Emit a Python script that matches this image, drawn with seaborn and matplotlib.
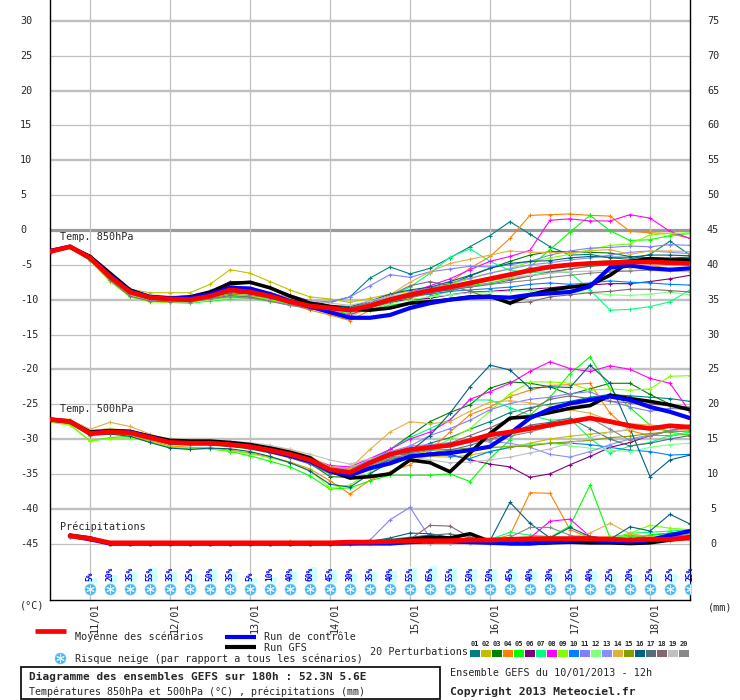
import matplotlib
matplotlib.use('Agg')
import matplotlib.pyplot as plt
from matplotlib.patches import Rectangle
import pandas as pd
import seaborn as sns

# ---------------------------------------------------------------
# Data : GEFS run 10/01/2013 12h, one value every 6 h (0..192 h)
# ---------------------------------------------------------------
hours = list(range(0, 193, 6))
precip_hours = hours[1:]
snow_hours = hours[2:]

day_hours = [12, 36, 60, 84, 108, 132, 156, 180]
day_labels = ['11/01', '12/01', '13/01', '14/01', '15/01', '16/01', '17/01', '18/01']

pert_names = ['01', '02', '03', '04', '05', '06', '07', '08', '09', '10',
              '11', '12', '13', '14', '15', '16', '17', '18', '19', '20']
pert_colors = ['#008080', '#c0c000', '#008000', '#ff8000', '#00ff00', '#800080', '#00ff80',
               '#ff00ff', '#80ff00', '#0080ff', '#8080ff', '#80ff80', '#8c8cff', '#e0b040',
               '#80a000', '#006080', '#507080', '#806870', '#c0c0c0', '#888888']

# Temp 850 hPa
t850_mean = [-3.1, -2.4, -4.0, -6.7, -8.9, -9.7, -9.9, -10.0, -9.5, -8.6, -8.9, -9.5, -10.3, -10.9, -11.2, -11.5,
             -10.9, -10.0, -9.3, -8.7, -8.2, -7.6, -7.0, -6.4, -5.8, -5.3, -5.0, -4.8, -4.7, -4.6, -4.6, -4.7, -4.8]
t850_ctrl = [-3.0, -2.4, -4.0, -6.5, -8.8, -9.6, -9.8, -9.7, -9.2, -8.3, -8.4, -9.2, -10.2, -11.0, -11.8, -12.6,
             -12.6, -12.2, -11.2, -10.5, -10.0, -9.7, -9.6, -9.7, -9.3, -9.1, -8.9, -8.1, -5.4, -5.1, -5.5, -5.7, -5.5]
t850_gfs = [-3.0, -2.4, -3.8, -6.2, -8.6, -9.6, -9.8, -9.6, -8.9, -7.7, -7.5, -8.3, -9.5, -10.5, -11.0, -11.4,
            -11.5, -11.2, -10.5, -10.3, -10.0, -9.6, -9.5, -10.5, -9.3, -8.6, -8.2, -7.9, -6.5, -4.5, -4.1, -4.3, -4.3]
t850_pert = [
    [-3.0, -2.3, -3.8, -6.4, -8.7, -9.5, -9.8, -9.9, -9.3, -8.4, -8.7, -9.4, -10.1, -10.5, -10.4, -9.6,
     -6.9, -5.3, -6.3, -5.5, -4.0, -2.4, -0.8, 1.2, -0.6, -2.4, -3.6, -3.5, -4.0, -4.2, -3.5, -1.6, -3.6],
    [-3.0, -2.3, -3.6, -6.2, -8.5, -9.0, -9.0, -9.0, -7.8, -5.7, -6.2, -7.4, -8.6, -9.6, -9.9, -10.4,
     -9.8, -9.2, -8.8, -8.4, -8.0, -7.8, -7.2, -7.0, -6.6, -6.2, -5.6, -5.2, -5.0, -5.4, -5.0, -5.6, -5.9],
    [-3.1, -2.4, -4.1, -6.9, -9.0, -9.8, -10.0, -10.1, -9.7, -9.0, -9.2, -9.8, -10.5, -11.0, -11.3, -11.4,
     -10.8, -9.9, -9.0, -8.5, -7.8, -6.6, -5.5, -4.5, -3.6, -3.1, -3.1, -3.2, -3.3, -3.8, -4.0, -4.0, -3.9],
    [-3.1, -2.5, -4.2, -7.0, -9.1, -9.8, -10.0, -10.0, -9.4, -8.5, -8.8, -9.6, -10.6, -11.5, -12.2, -13.0,
     -11.5, -10.5, -9.8, -9.0, -7.5, -5.5, -3.8, -1.2, 2.1, 2.2, 2.3, 2.1, 2.0, -0.2, -0.4, -0.5, -1.2],
    [-3.2, -2.5, -4.3, -7.2, -9.4, -10.2, -10.4, -10.5, -10.2, -9.9, -9.8, -10.0, -10.6, -11.2, -11.6, -12.0,
     -11.5, -10.8, -10.4, -9.5, -8.8, -8.0, -7.6, -7.0, -5.3, -2.8, -0.3, 2.1, -0.1, -1.5, -1.4, -0.8, -0.5],
    [-3.1, -2.4, -3.9, -6.5, -8.7, -9.4, -9.6, -9.6, -8.8, -7.4, -7.4, -8.2, -9.3, -10.2, -10.8, -11.0,
     -10.8, -10.3, -10.0, -9.8, -9.3, -8.9, -8.8, -8.6, -8.5, -8.3, -8.0, -7.9, -7.7, -7.7, -7.4, -7.0, -6.5],
    [-3.0, -2.4, -4.2, -7.0, -9.2, -10.0, -10.2, -10.3, -10.0, -9.5, -9.6, -10.0, -10.6, -11.0, -11.1, -11.0,
     -10.5, -9.5, -8.2, -6.2, -3.9, -2.7, -4.5, -5.8, -6.1, -6.0, -6.1, -8.6, -11.5, -11.4, -11.0, -10.3, -8.6],
    [-3.1, -2.4, -4.0, -6.7, -8.8, -9.6, -9.8, -9.8, -9.2, -8.2, -8.4, -9.2, -10.2, -11.0, -11.6, -12.2,
     -11.0, -9.8, -9.0, -8.0, -7.0, -5.7, -4.5, -3.8, -2.9, 1.4, 1.6, 1.3, 1.3, 2.2, 1.7, -0.2, -1.2],
    [-3.3, -2.6, -4.4, -7.4, -9.6, -10.3, -10.4, -10.4, -10.0, -9.8, -9.7, -10.0, -10.5, -11.0, -11.5, -11.8,
     -11.0, -10.2, -9.4, -8.6, -7.8, -7.0, -6.2, -5.5, -4.6, -4.0, -3.5, -2.8, -2.2, -2.0, -0.7, -0.5, -0.4],
    [-3.1, -2.4, -4.0, -6.8, -9.0, -9.7, -9.8, -9.8, -9.2, -8.2, -8.4, -9.0, -9.8, -10.6, -11.2, -11.8,
     -11.2, -10.4, -9.6, -9.2, -8.8, -8.6, -8.4, -8.2, -7.8, -7.6, -7.8, -7.6, -7.3, -7.5, -7.6, -7.8, -7.9],
    [-3.0, -2.3, -3.9, -6.6, -8.8, -9.5, -9.7, -9.7, -9.0, -8.0, -8.3, -9.0, -9.8, -10.2, -10.3, -9.6,
     -8.0, -6.4, -6.8, -6.0, -5.6, -5.2, -5.3, -5.0, -4.5, -3.6, -3.0, -2.6, -2.5, -2.3, -2.4, -2.1, -2.2],
    [-3.2, -2.5, -4.3, -7.2, -9.4, -10.1, -10.3, -10.4, -10.1, -9.8, -9.9, -10.3, -10.8, -11.2, -11.5, -11.8,
     -11.3, -10.6, -10.0, -9.6, -9.3, -9.0, -8.9, -8.8, -8.7, -8.6, -8.8, -9.0, -9.3, -9.4, -9.2, -8.9, -9.3],
    [-3.1, -2.4, -4.0, -6.6, -8.8, -9.6, -9.8, -9.8, -9.1, -8.2, -8.5, -9.2, -10.0, -10.6, -11.0, -11.2,
     -10.5, -9.7, -9.0, -8.3, -7.6, -6.9, -6.2, -5.6, -5.0, -4.7, -4.3, -4.0, -3.6, -3.2, -3.0, -3.2, -3.4],
    [-3.0, -2.3, -3.8, -6.4, -8.6, -9.4, -9.6, -9.6, -9.0, -8.1, -8.3, -9.0, -9.9, -10.6, -11.3, -12.5,
     -11.0, -9.3, -7.5, -6.0, -4.8, -4.2, -3.6, -3.0, -3.2, -3.2, -3.3, -3.0, -2.8, -3.5, -3.0, -3.0, -3.1],
    [-3.2, -2.5, -4.2, -7.0, -9.2, -9.9, -10.1, -10.2, -9.8, -9.2, -9.4, -9.8, -10.4, -10.9, -11.3, -11.6,
     -11.1, -10.3, -9.6, -9.0, -8.5, -7.9, -7.2, -6.6, -6.0, -5.4, -5.0, -4.6, -4.4, -4.4, -4.2, -4.0, -4.2],
    [-3.1, -2.4, -4.1, -6.8, -9.0, -9.7, -9.8, -9.8, -9.2, -8.4, -8.6, -9.2, -10.0, -10.5, -11.0, -11.0,
     -10.2, -9.2, -8.6, -8.2, -7.4, -6.5, -5.5, -4.8, -4.5, -4.4, -4.0, -3.8, -3.9, -3.9, -3.6, -3.6, -3.7],
    [-3.0, -2.4, -4.0, -6.6, -8.8, -9.6, -9.8, -9.9, -9.4, -8.7, -9.0, -9.7, -10.5, -11.0, -11.4, -11.6,
     -11.0, -10.2, -9.6, -9.0, -8.6, -8.2, -7.8, -7.2, -6.6, -6.0, -5.6, -5.2, -5.0, -4.8, -4.6, -4.4, -4.3],
    [-3.2, -2.5, -4.3, -7.2, -9.5, -10.2, -10.3, -10.3, -9.9, -9.4, -9.6, -10.2, -10.8, -11.3, -11.4, -11.2,
     -10.4, -9.4, -8.0, -7.4, -8.0, -8.8, -9.8, -10.5, -10.3, -9.6, -9.3, -9.0, -8.8, -8.5, -8.5, -8.7, -8.9],
    [-3.0, -2.3, -3.7, -6.3, -8.5, -9.3, -9.5, -9.5, -9.0, -8.3, -8.5, -9.1, -9.8, -10.2, -10.5, -10.8,
     -10.2, -9.5, -9.0, -8.5, -8.0, -7.6, -7.2, -6.8, -6.5, -6.2, -6.0, -5.9, -5.8, -5.8, -5.8, -5.9, -6.0],
    [-3.1, -2.4, -4.1, -6.9, -9.2, -10.0, -10.2, -10.2, -9.9, -9.6, -9.8, -10.2, -10.8, -11.1, -11.3, -11.2,
     -10.6, -9.8, -9.2, -8.7, -8.4, -8.1, -7.8, -7.5, -7.2, -6.8, -6.5, -6.2, -6.0, -5.9, -5.7, -5.6, -5.5],
]

# Temp 500 hPa
t500_mean = [-27.2, -27.5, -29.2, -29.0, -29.1, -29.8, -30.5, -30.6, -30.6, -30.8, -31.1, -31.6, -32.2, -33.0, -34.4,
             -34.8, -33.4, -32.2, -31.5, -31.2, -30.9, -30.2, -29.4, -29.0, -28.5, -28.0, -27.5, -27.0, -27.5, -28.1,
             -28.5, -28.1, -28.3]
t500_ctrl = [-27.2, -27.5, -29.2, -28.9, -29.0, -29.7, -30.5, -30.6, -30.6, -30.8, -31.1, -31.7, -32.4, -33.2, -34.6,
             -35.2, -34.2, -33.5, -32.5, -32.2, -32.0, -31.6, -31.1, -29.2, -27.0, -25.7, -24.9, -24.4, -23.9, -24.4,
             -25.4, -26.1, -27.0]
t500_gfs = [-27.2, -27.5, -29.0, -28.8, -28.9, -29.6, -30.2, -30.3, -30.3, -30.5, -30.8, -31.3, -31.9, -32.7, -34.6,
            -35.6, -35.4, -35.0, -33.0, -33.4, -34.7, -32.0, -29.2, -27.0, -26.8, -26.2, -25.6, -25.2, -23.7, -24.2,
            -24.6, -25.1, -25.8]
t500_pert = [
    [-27.1, -27.4, -29.1, -28.9, -29.1, -29.8, -30.5, -30.6, -30.6, -30.8, -31.1, -31.6, -32.3, -33.2, -34.8, -35.2,
     -34.2, -33.0, -31.8, -30.6, -29.8, -28.6, -27.5, -26.2, -25.5, -25.0, -24.6, -24.0, -23.6, -23.8, -24.0, -24.2, -24.6],
    [-27.0, -27.2, -28.8, -28.5, -28.8, -29.4, -30.0, -30.1, -30.2, -30.4, -30.8, -31.3, -32.0, -32.8, -34.0, -34.2,
     -33.4, -32.9, -32.8, -32.5, -32.6, -32.3, -31.8, -31.2, -30.6, -30.0, -29.6, -29.3, -29.0, -28.7, -28.5, -28.8, -29.0],
    [-27.2, -27.5, -29.2, -29.0, -28.9, -29.6, -30.4, -30.6, -30.6, -30.9, -31.3, -31.9, -32.6, -33.5, -35.4, -35.5,
     -33.5, -31.5, -29.5, -27.5, -26.2, -25.1, -22.7, -21.8, -22.0, -22.5, -23.6, -22.8, -22.0, -22.0, -23.6, -25.0, -25.8],
    [-27.3, -27.6, -29.5, -29.3, -29.4, -30.2, -31.0, -31.2, -31.3, -31.6, -32.0, -32.6, -33.3, -34.3, -36.0, -37.9,
     -35.9, -34.7, -33.7, -31.6, -29.0, -26.5, -25.4, -23.9, -23.0, -22.3, -22.2, -22.0, -26.3, -28.8, -29.5, -29.5, -29.3],
    [-27.4, -27.9, -30.3, -29.8, -29.6, -30.4, -31.2, -31.4, -31.4, -31.8, -32.4, -33.2, -34.0, -35.3, -37.2, -37.0,
     -36.0, -35.2, -35.2, -35.2, -35.0, -36.1, -32.8, -30.1, -26.6, -24.0, -20.6, -18.2, -22.8, -25.5, -28.0, -29.0, -29.5],
    [-27.2, -27.5, -29.3, -29.1, -29.2, -29.9, -30.6, -30.8, -30.8, -31.0, -31.3, -31.8, -32.4, -33.2, -34.5, -34.8,
     -33.8, -33.0, -32.5, -32.0, -32.2, -33.0, -33.6, -34.0, -35.5, -35.0, -33.7, -32.5, -31.2, -30.5, -29.5, -28.8, -28.2],
    [-27.1, -27.4, -29.1, -28.9, -29.0, -29.7, -30.4, -30.5, -30.6, -30.8, -31.0, -31.5, -32.2, -33.0, -34.0, -34.3,
     -33.0, -31.5, -29.8, -28.5, -27.2, -24.4, -24.4, -25.5, -26.6, -27.3, -27.1, -29.9, -32.0, -31.0, -30.5, -29.5, -29.0],
    [-27.2, -27.4, -29.1, -28.9, -29.0, -29.6, -30.2, -30.3, -30.4, -30.6, -30.9, -31.4, -32.0, -32.8, -33.8, -34.0,
     -32.8, -31.5, -30.0, -29.0, -27.3, -24.3, -23.2, -22.0, -20.3, -18.9, -19.9, -20.3, -19.5, -20.0, -21.3, -22.0, -26.1],
    [-27.6, -28.0, -30.3, -29.9, -29.8, -30.4, -31.1, -31.3, -31.4, -31.7, -32.1, -32.7, -33.4, -34.5, -37.0, -36.6,
     -34.8, -33.5, -32.8, -31.5, -30.0, -28.5, -26.0, -23.5, -21.8, -21.8, -22.0, -23.0, -22.8, -23.0, -22.8, -21.0, -20.9],
    [-27.1, -27.4, -29.0, -28.8, -29.0, -29.7, -30.3, -30.4, -30.4, -30.6, -30.9, -31.4, -32.0, -32.9, -34.2, -34.6,
     -33.6, -32.5, -32.2, -32.2, -32.4, -32.8, -31.8, -31.2, -30.8, -30.6, -30.6, -30.8, -31.2, -31.6, -31.8, -32.3, -32.2],
    [-27.2, -27.5, -29.2, -29.0, -29.2, -29.9, -30.6, -30.7, -30.7, -30.9, -31.2, -31.7, -32.3, -33.1, -34.2, -34.5,
     -33.5, -32.3, -31.0, -29.5, -28.5, -27.3, -25.8, -24.9, -24.3, -24.0, -23.5, -23.2, -24.5, -25.4, -26.0, -25.6, -25.8],
    [-27.3, -27.6, -29.4, -29.2, -29.3, -30.0, -30.7, -30.9, -30.9, -31.1, -31.5, -32.0, -32.6, -33.4, -34.6, -34.9,
     -33.9, -32.8, -32.0, -31.6, -31.5, -31.8, -31.3, -31.0, -30.8, -30.6, -31.0, -31.3, -31.6, -31.8, -31.2, -30.8, -30.6],
    [-27.1, -27.4, -29.0, -28.8, -29.0, -29.6, -30.3, -30.4, -30.4, -30.6, -30.9, -31.5, -32.1, -32.9, -34.0, -34.3,
     -33.0, -31.8, -31.0, -30.8, -30.5, -30.3, -30.4, -30.6, -31.2, -32.2, -32.6, -31.8, -30.8, -30.0, -29.4, -28.8, -28.5],
    [-27.0, -27.2, -28.6, -27.6, -28.2, -29.3, -30.2, -30.3, -30.3, -30.5, -30.7, -31.1, -31.5, -32.5, -34.0, -34.2,
     -31.5, -29.0, -27.5, -27.8, -27.5, -26.0, -24.7, -24.5, -24.8, -25.3, -25.8, -26.3, -27.3, -27.8, -28.0, -28.2, -28.0],
    [-27.3, -27.6, -29.4, -29.1, -29.2, -29.9, -30.6, -30.7, -30.7, -30.9, -31.2, -31.8, -32.4, -33.2, -34.6, -34.8,
     -33.6, -32.4, -31.8, -31.6, -31.5, -31.3, -31.2, -31.1, -31.0, -30.6, -30.4, -30.2, -29.8, -29.6, -29.2, -29.0, -28.8],
    [-27.1, -27.4, -29.4, -29.3, -29.6, -30.5, -31.3, -31.5, -31.3, -31.4, -31.8, -32.5, -33.4, -34.6, -36.5, -36.9,
     -35.0, -33.3, -31.8, -29.5, -26.3, -22.5, -19.4, -20.1, -22.7, -22.5, -22.6, -19.4, -22.0, -28.5, -35.4, -33.0, -32.3],
    [-27.2, -27.5, -29.3, -29.1, -29.2, -29.9, -30.6, -30.7, -30.8, -31.0, -31.4, -32.0, -32.7, -33.6, -35.0, -35.2,
     -34.0, -33.0, -32.6, -32.0, -31.6, -30.9, -30.0, -29.2, -28.0, -27.6, -27.0, -28.5, -30.0, -31.0, -30.6, -30.0, -29.5],
    [-27.2, -27.5, -29.2, -29.0, -29.1, -29.8, -30.5, -30.6, -30.6, -30.8, -31.1, -31.6, -32.2, -33.1, -34.5, -34.8,
     -33.6, -32.6, -32.0, -31.4, -30.6, -29.5, -28.4, -27.1, -25.8, -24.3, -23.8, -24.2, -24.6, -24.8, -25.0, -25.2, -25.4],
    [-27.0, -27.3, -28.7, -28.6, -28.9, -29.5, -30.1, -30.2, -30.2, -30.3, -30.5, -30.9, -31.5, -32.2, -33.0, -33.6,
     -32.8, -32.3, -32.5, -33.0, -33.4, -33.3, -33.0, -32.6, -32.0, -31.4, -30.6, -29.8, -29.0, -28.6, -28.4, -28.3, -28.2],
    [-27.2, -27.5, -29.3, -29.1, -29.2, -29.9, -30.6, -30.7, -30.7, -30.9, -31.2, -31.7, -32.4, -33.2, -34.6, -34.9,
     -33.8, -32.8, -32.2, -31.6, -31.0, -30.5, -30.1, -29.6, -29.0, -28.2, -27.6, -27.0, -28.6, -30.2, -29.6, -28.8, -28.0],
]

# Precipitation (mm), from +6 h
rr_mean = [1.1, 0.7, 0.1, 0.1, 0.1, 0.1, 0.1, 0.1, 0.1, 0.1, 0.1, 0.1, 0.1, 0.1, 0.2, 0.2,
           0.3, 0.4, 0.4, 0.4, 0.5, 0.5, 0.6, 0.7, 0.7, 0.7, 0.7, 0.6, 0.5, 0.6, 0.6, 0.8]
rr_ctrl = [1.1, 0.6, 0.0, 0.0, 0.0, 0.0, 0.0, 0.0, 0.0, 0.0, 0.0, 0.0, 0.0, 0.0, 0.0, 0.0,
           0.0, 0.2, 0.3, 0.3, 0.2, 0.1, 0.0, 0.0, 0.2, 0.4, 0.5, 0.3, 0.2, 0.5, 1.2, 1.8]
rr_gfs = [1.2, 0.8, 0.0, 0.0, 0.0, 0.0, 0.0, 0.0, 0.0, 0.0, 0.0, 0.0, 0.0, 0.0, 0.0, 0.1,
          0.3, 0.6, 0.9, 0.8, 1.4, 0.3, 0.0, 0.0, 0.1, 0.2, 0.1, 0.1, 0.0, 0.1, 0.5, 0.9]
rr_pert = [
    [1.0, 0.6, 0.0, 0.0, 0.0, 0.0, 0.0, 0.0, 0.0, 0.0, 0.0, 0.0, 0.0, 0.0, 0.1, 0.3,
     0.5, 0.8, 1.2, 0.6, 0.4, 0.2, 0.6, 0.3, 0.2, 0.5, 0.8, 0.5, 0.3, 0.6, 0.9, 1.2],
    [1.1, 0.7, 0.0, 0.0, 0.0, 0.0, 0.0, 0.0, 0.0, 0.0, 0.1, 0.3, 0.2, 0.0, 0.1, 0.2,
     0.4, 0.7, 0.5, 0.3, 0.2, 0.2, 0.3, 0.4, 0.6, 0.5, 0.4, 0.3, 0.4, 0.6, 0.7, 0.8],
    [1.0, 0.6, 0.0, 0.0, 0.0, 0.0, 0.0, 0.0, 0.0, 0.0, 0.0, 0.0, 0.0, 0.0, 0.1, 0.2,
     0.4, 0.6, 0.5, 0.3, 0.2, 0.1, 0.3, 0.5, 0.6, 0.9, 1.0, 0.7, 0.6, 1.2, 1.5, 1.4],
    [1.2, 0.8, 0.0, 0.0, 0.0, 0.0, 0.0, 0.0, 0.0, 0.0, 0.0, 0.0, 0.0, 0.0, 0.1, 0.2,
     0.2, 0.3, 0.4, 0.3, 0.3, 0.5, 1.2, 7.3, 7.2, 2.0, 0.8, 1.0, 1.2, 0.8, 1.0, 1.3],
    [1.1, 0.7, 0.0, 0.0, 0.0, 0.0, 0.0, 0.0, 0.0, 0.0, 0.0, 0.0, 0.0, 0.0, 0.1, 0.2,
     0.3, 0.4, 0.3, 0.2, 0.3, 0.2, 0.4, 0.6, 0.9, 2.5, 8.4, 0.8, 1.0, 1.2, 1.5, 1.8],
    [1.0, 0.6, 0.0, 0.0, 0.0, 0.0, 0.0, 0.0, 0.0, 0.0, 0.0, 0.0, 0.0, 0.0, 0.0, 0.1,
     0.2, 0.2, 0.1, 0.1, 0.1, 0.1, 0.2, 0.2, 0.3, 0.2, 0.2, 0.2, 0.3, 0.4, 0.5, 0.6],
    [1.1, 0.7, 0.0, 0.0, 0.0, 0.0, 0.0, 0.0, 0.0, 0.0, 0.0, 0.0, 0.0, 0.0, 0.1, 0.2,
     0.3, 0.3, 0.3, 0.2, 0.2, 0.6, 1.6, 1.2, 1.0, 0.8, 0.6, 0.5, 1.5, 1.6, 1.8, 2.0],
    [1.2, 0.7, 0.0, 0.0, 0.0, 0.0, 0.0, 0.0, 0.0, 0.0, 0.0, 0.0, 0.0, 0.0, 0.1, 0.2,
     0.3, 0.3, 0.2, 0.2, 0.2, 0.3, 0.4, 0.8, 3.2, 3.5, 1.0, 0.6, 0.7, 0.9, 1.0, 1.1],
    [1.1, 0.8, 0.0, 0.0, 0.0, 0.0, 0.0, 0.0, 0.0, 0.0, 0.0, 0.0, 0.0, 0.0, 0.1, 0.2,
     0.3, 0.4, 0.3, 0.2, 0.2, 0.3, 0.3, 0.4, 0.5, 0.6, 0.9, 0.7, 1.5, 2.6, 2.2, 2.0],
    [1.0, 0.6, 0.0, 0.0, 0.0, 0.0, 0.0, 0.0, 0.0, 0.0, 0.0, 0.0, 0.0, 0.0, 0.0, 0.1,
     0.1, 0.2, 0.2, 0.1, 0.1, 0.1, 0.2, 0.3, 0.3, 0.2, 0.2, 0.3, 0.4, 0.7, 1.0, 1.4],
    [1.1, 0.7, 0.0, 0.0, 0.0, 0.0, 0.0, 0.0, 0.0, 0.0, 0.0, 0.0, 0.0, 0.0, 0.2, 0.5,
     3.4, 5.2, 0.8, 0.6, 0.4, 0.3, 0.2, 0.2, 0.3, 0.4, 0.2, 0.3, 0.4, 0.6, 0.8, 1.0],
    [1.0, 0.6, 0.0, 0.0, 0.0, 0.0, 0.0, 0.0, 0.0, 0.0, 0.0, 0.0, 0.0, 0.0, 0.1, 0.1,
     0.2, 0.3, 0.2, 0.2, 0.2, 0.2, 0.3, 0.4, 0.4, 0.3, 0.3, 0.2, 0.3, 0.4, 0.5, 0.6],
    [1.1, 0.7, 0.0, 0.0, 0.0, 0.0, 0.0, 0.0, 0.0, 0.0, 0.0, 0.0, 0.0, 0.0, 0.1, 0.2,
     0.3, 0.4, 0.3, 0.3, 0.2, 0.2, 0.3, 0.3, 0.4, 0.3, 0.3, 0.3, 0.4, 0.5, 0.6, 0.7],
    [1.2, 0.8, 0.0, 0.0, 0.0, 0.0, 0.0, 0.0, 0.0, 0.0, 0.0, 0.0, 0.0, 0.0, 0.1, 0.1,
     0.2, 0.3, 0.2, 0.2, 0.2, 0.3, 0.4, 0.5, 0.6, 0.9, 1.5, 2.9, 1.4, 1.0, 1.2, 1.4],
    [1.1, 0.7, 0.0, 0.0, 0.0, 0.0, 0.0, 0.0, 0.0, 0.0, 0.0, 0.0, 0.0, 0.0, 0.1, 0.1,
     0.2, 0.3, 0.3, 0.2, 0.2, 0.2, 0.3, 0.4, 0.5, 0.4, 0.3, 0.3, 0.4, 0.6, 0.8, 1.0],
    [1.0, 0.6, 0.0, 0.0, 0.0, 0.0, 0.0, 0.0, 0.0, 0.0, 0.0, 0.0, 0.0, 0.0, 0.2, 0.3,
     0.8, 1.5, 1.4, 0.9, 0.6, 0.4, 5.9, 2.9, 0.8, 2.3, 1.0, 0.6, 2.4, 1.8, 4.2, 2.8],
    [1.1, 0.7, 0.0, 0.0, 0.0, 0.0, 0.0, 0.0, 0.0, 0.0, 0.0, 0.0, 0.0, 0.0, 0.1, 0.3,
     0.6, 0.9, 1.2, 1.4, 0.8, 0.4, 0.3, 0.5, 0.7, 0.6, 0.4, 0.3, 0.4, 0.5, 0.6, 0.8],
    [1.2, 0.7, 0.0, 0.0, 0.0, 0.0, 0.0, 0.0, 0.0, 0.0, 0.0, 0.0, 0.0, 0.0, 0.1, 0.2,
     0.4, 0.6, 2.6, 2.5, 0.9, 0.4, 0.2, 0.3, 0.5, 0.4, 0.3, 0.2, 0.3, 0.4, 0.5, 0.6],
    [1.0, 0.6, 0.0, 0.0, 0.0, 0.0, 0.0, 0.0, 0.0, 0.0, 0.0, 0.0, 0.0, 0.0, 0.0, 0.1,
     0.1, 0.2, 0.2, 0.1, 0.1, 0.1, 0.2, 0.2, 0.3, 0.2, 0.2, 0.2, 0.3, 0.3, 0.4, 0.5],
    [1.1, 0.7, 0.0, 0.0, 0.0, 0.0, 0.0, 0.0, 0.0, 0.0, 0.0, 0.0, 0.0, 0.0, 0.1, 0.2,
     0.3, 0.5, 0.7, 0.4, 0.3, 0.3, 0.9, 2.3, 2.3, 1.2, 0.6, 0.4, 0.3, 0.4, 0.5, 0.6],
]

# Snow risk (% of scenarios), from +12 h
snow_pct = [5, 20, 35, 55, 35, 25, 50, 35, 5, 10, 40, 60, 45, 30, 35, 40,
            55, 65, 55, 50, 50, 45, 40, 30, 35, 40, 25, 20, 25, 25, 25]

RR_BASE = -45  # precipitation drawn with 0 mm on the -45 line

# ---------------------------------------------------------------
# Figure setup
# ---------------------------------------------------------------
sns.set_style('white')
plt.rcParams['font.family'] = ['DejaVu Sans Mono', 'DejaVu Sans']
plt.rcParams['axes.unicode_minus'] = False

W, H = 740, 700
fig = plt.figure(figsize=(W / 100, H / 100), dpi=100)
fig.patch.set_facecolor('white')
ax = fig.add_axes([50 / W, 100 / H, 640 / W, 600 / H])

PX_PER_DEG = 6.967


def ypx(p):
    # pixel row -> temperature coordinate
    return -(p - 230) / PX_PER_DEG


ax.set_xlim(0, 192)
ax.set_ylim(ypx(600), ypx(0))
ax.set_xticks([])
ax.set_yticks([])
for s in ['left', 'right', 'bottom']:
    ax.spines[s].set_color('black')
    ax.spines[s].set_linewidth(1.0)
ax.spines['top'].set_visible(False)

# grid
for v in range(-45, 31, 5):
    if v == 0:
        ax.axhline(v, color='#9a9a9a', lw=2.3, zorder=1)
    elif v % 10 == 0:
        ax.axhline(v, color='#c0c0c0', lw=1.7, zorder=1)
    else:
        ax.axhline(v, color='#c0c0c0', lw=0.9, zorder=1)
for h in day_hours:
    ax.axvline(h, color='#c0c0c0', lw=0.9, zorder=1)

# ---------------------------------------------------------------
# Perturbations (thin lines)
# ---------------------------------------------------------------
rows = []
for name, vals in zip(pert_names, t850_pert):
    rows += [('t850', name, h, v) for h, v in zip(hours, vals)]
for name, vals in zip(pert_names, t500_pert):
    rows += [('t500', name, h, v) for h, v in zip(hours, vals)]
for name, vals in zip(pert_names, rr_pert):
    rows += [('rr', name, h, RR_BASE + v) for h, v in zip(precip_hours, vals)]
df = pd.DataFrame(rows, columns=['level', 'member', 'hour', 'value'])
palette = dict(zip(pert_names, pert_colors))

for level in ['t850', 't500', 'rr']:
    sns.lineplot(data=df[df['level'] == level], x='hour', y='value', hue='member',
                 palette=palette, estimator=None, legend=False, lw=0.8,
                 marker='+', markersize=3.5, ax=ax, zorder=2)
for line in ax.lines:
    line.set_markeredgecolor(line.get_color())
    line.set_markeredgewidth(0.8)

# ---------------------------------------------------------------
# GFS run, control run, ensemble mean
# ---------------------------------------------------------------
main_series = [
    (hours, t850_gfs, t500_gfs, rr_gfs, 'black', 2.6, 3),
    (hours, t850_ctrl, t500_ctrl, rr_ctrl, '#0000ff', 3.0, 4),
    (hours, t850_mean, t500_mean, rr_mean, '#ff0000', 3.4, 5),
]
for hh, a, b, r, col, lw, z in main_series:
    sns.lineplot(x=hh, y=a, color=col, lw=lw, estimator=None, ax=ax, zorder=z)
    sns.lineplot(x=hh, y=b, color=col, lw=lw, estimator=None, ax=ax, zorder=z)
    sns.lineplot(x=precip_hours, y=[RR_BASE + v for v in r], color=col, lw=lw,
                 estimator=None, ax=ax, zorder=z)

# ---------------------------------------------------------------
# Snow risk row
# ---------------------------------------------------------------
bar_base = ypx(583)
ax.bar([h + 0.9 for h in snow_hours], [(5 + 0.2 * p) / PX_PER_DEG for p in snow_pct],
       bottom=bar_base, width=2.4, color='#c8ffff', zorder=6)
for h, p in zip(snow_hours, snow_pct):
    ax.text(h, ypx(581), f'{p}%', rotation=90, ha='center', va='bottom',
            color='#0000ff', fontsize=5.7, fontweight='bold', zorder=7)
ax.scatter(snow_hours, [ypx(588.5)] * len(snow_hours), s=62, marker='o',
           color='#48b4f0', edgecolors='#7ccaf4', linewidths=0.5, zorder=7)
ax.scatter(snow_hours, [ypx(588.5)] * len(snow_hours), s=30, marker=(6, 2, 0),
           color='#d8f4ff', linewidths=0.8, zorder=8)

# ---------------------------------------------------------------
# Axis labels
# ---------------------------------------------------------------
ytr = ax.get_yaxis_transform()
for v in range(-45, 31, 5):
    ax.text((20 - 50) / 640, v, f'{v}', transform=ytr, ha='left', va='center', fontsize=7.3)
    ax.text((713 - 50) / 640, v, f'{v + 45}', transform=ytr, ha='center', va='center', fontsize=7.3)

xtr = ax.get_xaxis_transform()
for h, lab in zip(day_hours, day_labels):
    ax.text(h + 1.5, -0.004, lab, transform=xtr, rotation=90, ha='center', va='top', fontsize=7.3)

ax.text(3.0, ypx(237), 'Temp. 850hPa', ha='left', va='center', fontsize=7.3, zorder=9)
ax.text(3.0, ypx(409), 'Temp. 500hPa', ha='left', va='center', fontsize=7.3, zorder=9)
ax.text(3.0, ypx(527), 'Précipitations', ha='left', va='center', fontsize=7.3, zorder=9)

# ---------------------------------------------------------------
# Legend / caption area (pixel coordinates)
# ---------------------------------------------------------------
lax = fig.add_axes([0, 0, 1, 1], zorder=10)
lax.set_xlim(0, W)
lax.set_ylim(H, 0)
lax.axis('off')

lax.text(20, 606, '(°C)', ha='left', va='center', fontsize=7.3)
lax.text(708, 607, '(mm)', ha='left', va='center', fontsize=7.3)

lax.plot([35, 66], [631, 631], color='#ff0000', lw=3.4, solid_capstyle='butt')
lax.text(75, 637, 'Moyenne des scénarios', ha='left', va='center', fontsize=7.3)
lax.plot([225, 256], [637, 637], color='#0000ff', lw=3.0, solid_capstyle='butt')
lax.text(264, 637, 'Run de contrôle', ha='left', va='center', fontsize=7.3)
lax.plot([225, 256], [647, 647], color='black', lw=3.0, solid_capstyle='butt')
lax.text(264, 648, 'Run GFS', ha='left', va='center', fontsize=7.3)

lax.scatter([60], [658], s=62, marker='o', color='#48b4f0', edgecolors='#7ccaf4', linewidths=0.5)
lax.scatter([60], [658], s=30, marker=(6, 2, 0), color='#d8f4ff', linewidths=0.8)
lax.text(75, 659, 'Risque neige (par rapport a tous les scénarios)', ha='left', va='center', fontsize=7.3)

lax.text(370, 652, '20 Perturbations', ha='left', va='center', fontsize=7.3)
for k, (name, col) in enumerate(zip(pert_names, pert_colors)):
    x0 = 470 + 11 * k
    lax.add_patch(Rectangle((x0, 650), 9.5, 6.5, color=col, lw=0))
    lax.text(x0 + 4.75, 644.5, name, ha='center', va='center', fontsize=5.0, fontweight='bold')

lax.add_patch(Rectangle((21, 667), 419, 32, fill=False, ec='black', lw=1.2))
lax.text(29, 677, 'Diagramme des ensembles GEFS sur 180h : 52.3N 5.6E',
         ha='left', va='center', fontsize=8.0, fontweight='bold')
lax.text(29, 692, 'Températures 850hPa et 500hPa (°C) , précipitations (mm)',
         ha='left', va='center', fontsize=7.2)
lax.text(450, 673, 'Ensemble GEFS du 10/01/2013 - 12h', ha='left', va='center', fontsize=7.3)
lax.text(450, 692, 'Copyright 2013 Meteociel.fr', ha='left', va='center', fontsize=8.2, fontweight='bold')

fig.savefig('out.png', dpi=100, facecolor='white')
